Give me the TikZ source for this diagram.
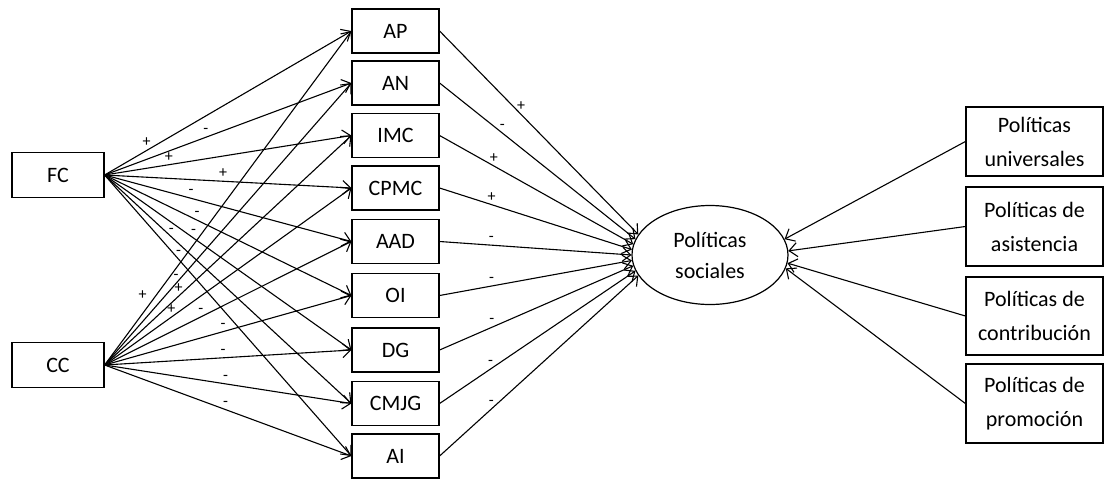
\documentclass[tikz,border=0pt]{standalone}
\usepackage{fontspec}
\setmainfont{Carlito}
\usetikzlibrary{arrows.meta,shapes.geometric}

\tikzset{
  src/.style={draw,line width=0.6pt,minimum width=46pt,minimum height=22.5pt,inner sep=0pt},
  var/.style={draw,line width=0.6pt,minimum width=43.5pt,minimum height=22pt,inner sep=0pt},
  pol/.style={draw,line width=0.6pt,minimum width=68.5pt,inner sep=0pt,align=center,font=\fontsize{11}{17}\selectfont},
  lbl/.style={font=\fontsize{8}{9}\selectfont,inner sep=1.5pt,above},
  rel/.style={-{Straight Barb[length=4pt,width=7pt]},line width=0.55pt},
}

\begin{document}
\begin{tikzpicture}[x=0.5pt,y=-0.5pt,font=\fontsize{11}{13}\selectfont]
\useasboundingbox (0,0) rectangle (1105,478);
\begin{scope}
\node[src] (fc) at (58,175) {FC};
\node[src] (cc) at (58,365) {CC};
\node[var] (ap) at (395.5,31) {AP};
\node[var] (an) at (395.5,83) {AN};
\node[var] (imc) at (395.5,135.5) {IMC};
\node[var] (cpmc) at (395.5,188) {CPMC};
\node[var] (aad) at (395.5,241.5) {AAD};
\node[var] (oi) at (395.5,295.5) {OI};
\node[var] (dg) at (395.5,350) {DG};
\node[var] (cmjg) at (395.5,403.5) {CMJG};
\node[var] (ai) at (395.5,456) {AI};
\node[draw,ellipse,line width=0.6pt,minimum width=78pt,minimum height=49.5pt,inner sep=0pt,align=center,font=\fontsize{11}{15.5}\selectfont] (ps) at (710,255) {Políticas\\sociales};
\node[pol,minimum height=34.5pt] (pu) at (1034.5,141.5) {Políticas\\universales};
\node[pol,minimum height=39.5pt] (pa) at (1034.5,226.5) {Políticas de\\asistencia};
\node[pol,minimum height=39pt] (pc) at (1034.5,316) {Políticas de\\contribución};
\node[pol,minimum height=39.5pt] (pp) at (1034.5,403.5) {Políticas de\\promoción};
\end{scope}

% FC
\draw[rel] (fc.east) -- node[lbl,pos=0.17] {+} (ap.west);
\draw[rel] (fc.east) -- node[lbl,pos=0.41] {-} (an.west);
\draw[rel] (fc.east) -- node[lbl,pos=0.26] {+} (imc.west);
\draw[rel] (fc.east) -- node[lbl,pos=0.48] {+} (cpmc.west);
\draw[rel] (fc.east) -- node[lbl,pos=0.35] {-} (aad.west);
\draw[rel] (fc.east) -- node[lbl,pos=0.375] {-} (oi.west);
\draw[rel] (fc.east) -- node[lbl,pos=0.36] {-} (dg.west);
\draw[rel] (fc.east) -- node[lbl,pos=0.27] {-} (cmjg.west);
\draw[rel] (fc.east) -- node[lbl,pos=0.30] {-} (ai.west);

% CC
\draw[rel] (cc.east) -- node[lbl,pos=0.185,above left] {+} (ap.west);
\draw[rel] (cc.east) -- node[lbl,pos=0.29] {-} (an.west);
\draw[rel] (cc.east) -- node[lbl,pos=0.30] {+} (imc.west);
\draw[rel] (cc.east) -- node[lbl,pos=0.27] {+} (cpmc.west);
\draw[rel] (cc.east) -- node[lbl,pos=0.39] {-} (aad.west);
\draw[rel] (cc.east) -- node[lbl,pos=0.48] {-} (oi.west);
\draw[rel] (cc.east) -- node[lbl,pos=0.48] {-} (dg.west);
\draw[rel] (cc.east) -- node[lbl,pos=0.49] {-} (cmjg.west);
\draw[rel] (cc.east) -- node[lbl,pos=0.49] {-} (ai.west);

% hacia politicas sociales
\draw[rel] (ap.east) -- node[lbl,pos=0.41] {+} (ps.164);
\draw[rel] (an.east) -- node[lbl,pos=0.32] {-} (ps.168);
\draw[rel] (imc.east) -- node[lbl,pos=0.28] {+} (ps.172);
\draw[rel] (cpmc.east) -- node[lbl,pos=0.27] {+} (ps.176);
\draw[rel] (aad.east) -- node[lbl,pos=0.27] {-} (ps.180);
\draw[rel] (oi.east) -- node[lbl,pos=0.27] {-} (ps.184);
\draw[rel] (dg.east) -- node[lbl,pos=0.27] {-} (ps.188);
\draw[rel] (cmjg.east) -- node[lbl,pos=0.26] {-} (ps.192);
\draw[rel] (ai.east) -- node[lbl,pos=0.26] {-} (ps.196);

% tipos de politicas
\draw[rel] (pu.west) -- (ps.12);
\draw[rel] (pa.west) -- (ps.3);
\draw[rel] (pc.west) -- (ps.-6);
\draw[rel] (pp.west) -- (ps.-10);
\end{tikzpicture}
\end{document}
